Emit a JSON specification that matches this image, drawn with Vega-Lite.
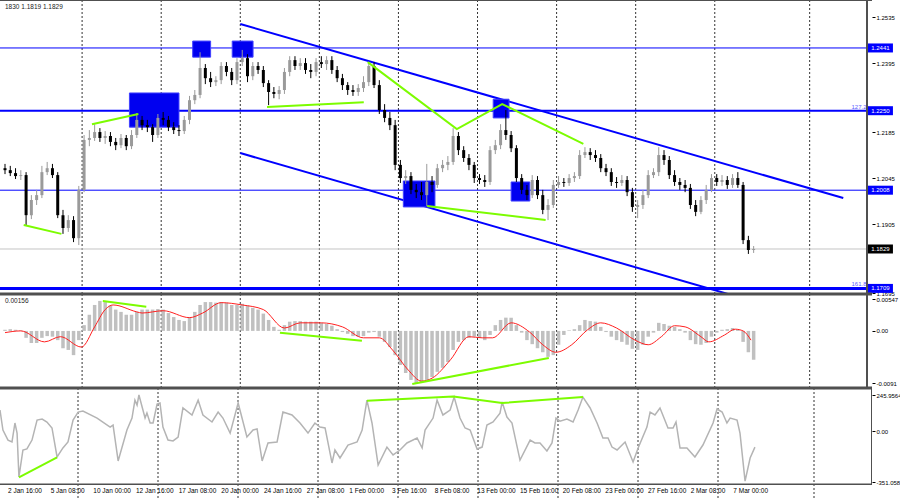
{
"$schema": "https://vega.github.io/schema/vega-lite/v6.json",
"padding": 0,
"spacing": 0,
"bounds": "flush",
"background": "white",
"config": {
 "view": {"stroke": null},
 "axis": {"labelFont": "Liberation Sans", "labelFontSize": 6, "labelColor": "#000000", "tickColor": "#000000", "tickSize": 3, "domain": false, "grid": false, "labelPadding": 1, "labelFlush": false, "labelOverlap": false},
 "text": {"font": "Liberation Sans"}
},
"datasets": {
 "one": [{}],
 "grid": [{"g":29.25},{"g":59.25},{"g":89.25},{"g":119.25},{"g":149.25},{"g":179.25},{"g":209.25},{"g":239.25},{"g":269.25},{"g":305.25}],
 "xlabels": [{"i":3,"t":"2 Jan 16:00"},{"i":19,"t":"5 Jan 08:00"},{"i":35,"t":"10 Jan 00:00"},{"i":51,"t":"12 Jan 16:00"},{"i":67,"t":"17 Jan 08:00"},{"i":83,"t":"20 Jan 00:00"},{"i":99,"t":"24 Jan 16:00"},{"i":115,"t":"27 Jan 08:00"},{"i":131,"t":"1 Feb 00:00"},{"i":147,"t":"3 Feb 16:00"},{"i":163,"t":"8 Feb 08:00"},{"i":179,"t":"13 Feb 00:00"},{"i":195,"t":"15 Feb 16:00"},{"i":211,"t":"20 Feb 08:00"},{"i":227,"t":"23 Feb 00:00"},{"i":243,"t":"27 Feb 16:00"},{"i":259,"t":"2 Mar 08:00"},{"i":275,"t":"7 Mar 00:00"}],
 "candles": [
{"i":0,"o":1.2075,"h":1.2088,"l":1.2057,"c":1.2069,"m":0.0002},
{"i":2,"o":1.2069,"h":1.2082,"l":1.2051,"c":1.2060,"m":0.0003},
{"i":4,"o":1.2060,"h":1.2075,"l":1.2042,"c":1.2051,"m":0.0002},
{"i":6,"o":1.2051,"h":1.2069,"l":1.2039,"c":1.2054,"m":0.0001},
{"i":8,"o":1.2054,"h":1.2063,"l":1.1902,"c":1.1932,"m":-0.0012},
{"i":10,"o":1.1932,"h":1.1993,"l":1.1920,"c":1.1978,"m":-0.0021},
{"i":12,"o":1.1978,"h":1.2009,"l":1.1963,"c":1.1993,"m":-0.0021},
{"i":14,"o":1.1993,"h":1.2082,"l":1.1984,"c":1.2063,"m":-0.0012},
{"i":16,"o":1.2063,"h":1.2094,"l":1.2054,"c":1.2075,"m":-0.0009},
{"i":18,"o":1.2075,"h":1.2088,"l":1.2045,"c":1.2054,"m":-0.0010},
{"i":20,"o":1.2054,"h":1.2063,"l":1.1923,"c":1.1932,"m":-0.0016},
{"i":22,"o":1.1932,"h":1.1948,"l":1.1875,"c":1.1893,"m":-0.0030},
{"i":24,"o":1.1893,"h":1.1932,"l":1.1881,"c":1.1917,"m":-0.0033},
{"i":26,"o":1.1917,"h":1.1929,"l":1.1850,"c":1.1862,"m":-0.0042},
{"i":28,"o":1.1862,"h":1.2021,"l":1.1841,"c":1.2009,"m":-0.0016},
{"i":30,"o":1.2009,"h":1.2176,"l":1.2002,"c":1.2161,"m":0.0010},
{"i":32,"o":1.2161,"h":1.2191,"l":1.2142,"c":1.2167,"m":0.0028},
{"i":34,"o":1.2167,"h":1.2209,"l":1.2158,"c":1.2185,"m":0.0045},
{"i":36,"o":1.2185,"h":1.2197,"l":1.2155,"c":1.2167,"m":0.0052},
{"i":38,"o":1.2167,"h":1.2188,"l":1.2149,"c":1.2173,"m":0.0050},
{"i":40,"o":1.2173,"h":1.2185,"l":1.2142,"c":1.2155,"m":0.0044},
{"i":42,"o":1.2155,"h":1.2167,"l":1.2130,"c":1.2145,"m":0.0037},
{"i":44,"o":1.2145,"h":1.2179,"l":1.2136,"c":1.2167,"m":0.0033},
{"i":46,"o":1.2167,"h":1.2176,"l":1.2130,"c":1.2142,"m":0.0028},
{"i":48,"o":1.2142,"h":1.2191,"l":1.2133,"c":1.2176,"m":0.0028},
{"i":50,"o":1.2176,"h":1.2243,"l":1.2167,"c":1.2222,"m":0.0033},
{"i":52,"o":1.2222,"h":1.2234,"l":1.2191,"c":1.2206,"m":0.0037},
{"i":54,"o":1.2206,"h":1.2222,"l":1.2185,"c":1.2200,"m":0.0037},
{"i":56,"o":1.2200,"h":1.2209,"l":1.2155,"c":1.2176,"m":0.0037},
{"i":58,"o":1.2176,"h":1.2240,"l":1.2167,"c":1.2228,"m":0.0038},
{"i":60,"o":1.2228,"h":1.2246,"l":1.2206,"c":1.2222,"m":0.0037},
{"i":62,"o":1.2222,"h":1.2234,"l":1.2188,"c":1.2200,"m":0.0031},
{"i":64,"o":1.2200,"h":1.2215,"l":1.2179,"c":1.2191,"m":0.0024},
{"i":66,"o":1.2191,"h":1.2206,"l":1.2173,"c":1.2188,"m":0.0019},
{"i":68,"o":1.2188,"h":1.2234,"l":1.2179,"c":1.2222,"m":0.0017},
{"i":70,"o":1.2222,"h":1.2295,"l":1.2209,"c":1.2282,"m":0.0024},
{"i":72,"o":1.2282,"h":1.2313,"l":1.2270,"c":1.2298,"m":0.0033},
{"i":74,"o":1.2298,"h":1.2428,"l":1.2288,"c":1.2380,"m":0.0045},
{"i":76,"o":1.2380,"h":1.2392,"l":1.2331,"c":1.2349,"m":0.0050},
{"i":78,"o":1.2349,"h":1.2368,"l":1.2322,"c":1.2337,"m":0.0050},
{"i":80,"o":1.2337,"h":1.2355,"l":1.2325,"c":1.2343,"m":0.0049},
{"i":82,"o":1.2343,"h":1.2398,"l":1.2331,"c":1.2386,"m":0.0050},
{"i":84,"o":1.2386,"h":1.2398,"l":1.2355,"c":1.2368,"m":0.0049},
{"i":86,"o":1.2368,"h":1.2380,"l":1.2328,"c":1.2343,"m":0.0045},
{"i":88,"o":1.2343,"h":1.2410,"l":1.2331,"c":1.2398,"m":0.0045},
{"i":90,"o":1.2398,"h":1.2435,"l":1.2386,"c":1.2410,"m":0.0047},
{"i":92,"o":1.2410,"h":1.2422,"l":1.2337,"c":1.2355,"m":0.0044},
{"i":94,"o":1.2355,"h":1.2398,"l":1.2343,"c":1.2386,"m":0.0040},
{"i":96,"o":1.2386,"h":1.2398,"l":1.2362,"c":1.2374,"m":0.0037},
{"i":98,"o":1.2374,"h":1.2386,"l":1.2322,"c":1.2334,"m":0.0030},
{"i":100,"o":1.2334,"h":1.2343,"l":1.2267,"c":1.2307,"m":0.0019},
{"i":102,"o":1.2307,"h":1.2322,"l":1.2288,"c":1.2301,"m":0.0007},
{"i":104,"o":1.2301,"h":1.2325,"l":1.2285,"c":1.2313,"m":0.0002},
{"i":106,"o":1.2313,"h":1.2380,"l":1.2301,"c":1.2368,"m":0.0010},
{"i":108,"o":1.2368,"h":1.2416,"l":1.2355,"c":1.2404,"m":0.0016},
{"i":110,"o":1.2404,"h":1.2416,"l":1.2374,"c":1.2386,"m":0.0017},
{"i":112,"o":1.2386,"h":1.2410,"l":1.2374,"c":1.2395,"m":0.0017},
{"i":114,"o":1.2395,"h":1.2410,"l":1.2362,"c":1.2374,"m":0.0016},
{"i":116,"o":1.2374,"h":1.2392,"l":1.2349,"c":1.2368,"m":0.0016},
{"i":118,"o":1.2368,"h":1.2410,"l":1.2355,"c":1.2398,"m":0.0016},
{"i":120,"o":1.2398,"h":1.2416,"l":1.2380,"c":1.2392,"m":0.0014},
{"i":122,"o":1.2392,"h":1.2416,"l":1.2374,"c":1.2404,"m":0.0012},
{"i":124,"o":1.2404,"h":1.2416,"l":1.2362,"c":1.2374,"m":0.0009},
{"i":126,"o":1.2374,"h":1.2386,"l":1.2337,"c":1.2349,"m":0.0003},
{"i":128,"o":1.2349,"h":1.2362,"l":1.2313,"c":1.2328,"m":-0.0002},
{"i":130,"o":1.2328,"h":1.2337,"l":1.2298,"c":1.2313,"m":-0.0005},
{"i":132,"o":1.2313,"h":1.2328,"l":1.2295,"c":1.2307,"m":-0.0009},
{"i":134,"o":1.2307,"h":1.2331,"l":1.2295,"c":1.2319,"m":-0.0010},
{"i":136,"o":1.2319,"h":1.2355,"l":1.2307,"c":1.2337,"m":-0.0009},
{"i":138,"o":1.2337,"h":1.2398,"l":1.2325,"c":1.2386,"m":-0.0003},
{"i":140,"o":1.2386,"h":1.2398,"l":1.2319,"c":1.2328,"m":-0.0002},
{"i":142,"o":1.2328,"h":1.2343,"l":1.2240,"c":1.2252,"m":-0.0010},
{"i":144,"o":1.2252,"h":1.2270,"l":1.2215,"c":1.2228,"m":-0.0019},
{"i":146,"o":1.2228,"h":1.2246,"l":1.2191,"c":1.2206,"m":-0.0028},
{"i":148,"o":1.2206,"h":1.2222,"l":1.2069,"c":1.2085,"m":-0.0042},
{"i":150,"o":1.2085,"h":1.2100,"l":1.2030,"c":1.2045,"m":-0.0059},
{"i":152,"o":1.2045,"h":1.2069,"l":1.2027,"c":1.2051,"m":-0.0073},
{"i":154,"o":1.2051,"h":1.2063,"l":1.1996,"c":1.2009,"m":-0.0085},
{"i":156,"o":1.2009,"h":1.2027,"l":1.1984,"c":1.2002,"m":-0.0092},
{"i":158,"o":1.2002,"h":1.2033,"l":1.1978,"c":1.1993,"m":-0.0090},
{"i":160,"o":1.1993,"h":1.2088,"l":1.1960,"c":1.2033,"m":-0.0085},
{"i":162,"o":1.2033,"h":1.2051,"l":1.2002,"c":1.2024,"m":-0.0080},
{"i":164,"o":1.2024,"h":1.2088,"l":1.2015,"c":1.2075,"m":-0.0071},
{"i":166,"o":1.2075,"h":1.2100,"l":1.2063,"c":1.2085,"m":-0.0064},
{"i":168,"o":1.2085,"h":1.2112,"l":1.2069,"c":1.2094,"m":-0.0054},
{"i":170,"o":1.2094,"h":1.2197,"l":1.2085,"c":1.2173,"m":-0.0033},
{"i":172,"o":1.2173,"h":1.2185,"l":1.2115,"c":1.2130,"m":-0.0019},
{"i":174,"o":1.2130,"h":1.2142,"l":1.2094,"c":1.2106,"m":-0.0016},
{"i":176,"o":1.2106,"h":1.2118,"l":1.2069,"c":1.2085,"m":-0.0012},
{"i":178,"o":1.2085,"h":1.2094,"l":1.2030,"c":1.2045,"m":-0.0010},
{"i":180,"o":1.2045,"h":1.2057,"l":1.2027,"c":1.2039,"m":-0.0012},
{"i":182,"o":1.2039,"h":1.2054,"l":1.2018,"c":1.2033,"m":-0.0016},
{"i":184,"o":1.2033,"h":1.2142,"l":1.2024,"c":1.2130,"m":-0.0007},
{"i":186,"o":1.2130,"h":1.2161,"l":1.2118,"c":1.2145,"m":0.0010},
{"i":188,"o":1.2145,"h":1.2209,"l":1.2133,"c":1.2191,"m":0.0019},
{"i":190,"o":1.2191,"h":1.2252,"l":1.2161,"c":1.2176,"m":0.0023},
{"i":192,"o":1.2176,"h":1.2188,"l":1.2124,"c":1.2136,"m":0.0023},
{"i":194,"o":1.2136,"h":1.2145,"l":1.2033,"c":1.2045,"m":0.0010},
{"i":196,"o":1.2045,"h":1.2057,"l":1.1996,"c":1.2009,"m":-0.0003},
{"i":198,"o":1.2009,"h":1.2024,"l":1.1978,"c":1.1993,"m":-0.0016},
{"i":200,"o":1.1993,"h":1.2054,"l":1.1984,"c":1.2039,"m":-0.0023},
{"i":202,"o":1.2039,"h":1.2051,"l":1.1981,"c":1.1993,"m":-0.0030},
{"i":204,"o":1.1993,"h":1.2009,"l":1.1935,"c":1.1948,"m":-0.0037},
{"i":206,"o":1.1948,"h":1.1981,"l":1.1917,"c":1.1963,"m":-0.0045},
{"i":208,"o":1.1963,"h":1.2039,"l":1.1954,"c":1.2024,"m":-0.0042},
{"i":210,"o":1.2024,"h":1.2051,"l":1.2015,"c":1.2033,"m":-0.0024},
{"i":212,"o":1.2033,"h":1.2045,"l":1.2018,"c":1.2030,"m":-0.0007},
{"i":214,"o":1.2030,"h":1.2057,"l":1.2021,"c":1.2045,"m":0.0001},
{"i":216,"o":1.2045,"h":1.2063,"l":1.2033,"c":1.2051,"m":0.0003},
{"i":218,"o":1.2051,"h":1.2130,"l":1.2042,"c":1.2115,"m":0.0010},
{"i":220,"o":1.2115,"h":1.2139,"l":1.2106,"c":1.2124,"m":0.0019},
{"i":222,"o":1.2124,"h":1.2136,"l":1.2100,"c":1.2115,"m":0.0017},
{"i":224,"o":1.2115,"h":1.2130,"l":1.2094,"c":1.2106,"m":0.0016},
{"i":226,"o":1.2106,"h":1.2118,"l":1.2063,"c":1.2075,"m":0.0007},
{"i":228,"o":1.2075,"h":1.2088,"l":1.2051,"c":1.2063,"m":-0.0002},
{"i":230,"o":1.2063,"h":1.2075,"l":1.2021,"c":1.2033,"m":-0.0010},
{"i":232,"o":1.2033,"h":1.2048,"l":1.2015,"c":1.2030,"m":-0.0016},
{"i":234,"o":1.2030,"h":1.2054,"l":1.2021,"c":1.2039,"m":-0.0019},
{"i":236,"o":1.2039,"h":1.2051,"l":1.1990,"c":1.2002,"m":-0.0024},
{"i":238,"o":1.2002,"h":1.2015,"l":1.1942,"c":1.1957,"m":-0.0031},
{"i":240,"o":1.1957,"h":1.1978,"l":1.1923,"c":1.1963,"m":-0.0033},
{"i":242,"o":1.1963,"h":1.2009,"l":1.1951,"c":1.1993,"m":-0.0024},
{"i":244,"o":1.1993,"h":1.2069,"l":1.1984,"c":1.2054,"m":-0.0010},
{"i":246,"o":1.2054,"h":1.2075,"l":1.2045,"c":1.2063,"m":-0.0003},
{"i":248,"o":1.2063,"h":1.2139,"l":1.2051,"c":1.2115,"m":0.0014},
{"i":250,"o":1.2115,"h":1.2130,"l":1.2085,"c":1.2100,"m":0.0012},
{"i":252,"o":1.2100,"h":1.2112,"l":1.2042,"c":1.2054,"m":0.0009},
{"i":254,"o":1.2054,"h":1.2069,"l":1.2021,"c":1.2033,"m":0.0007},
{"i":256,"o":1.2033,"h":1.2045,"l":1.2009,"c":1.2024,"m":0.0003},
{"i":258,"o":1.2024,"h":1.2039,"l":1.2002,"c":1.2015,"m":-0.0003},
{"i":260,"o":1.2015,"h":1.2027,"l":1.1951,"c":1.1963,"m":-0.0016},
{"i":262,"o":1.1963,"h":1.1978,"l":1.1929,"c":1.1942,"m":-0.0023},
{"i":264,"o":1.1942,"h":1.1990,"l":1.1935,"c":1.1978,"m":-0.0024},
{"i":266,"o":1.1978,"h":1.2024,"l":1.1966,"c":1.2009,"m":-0.0021},
{"i":268,"o":1.2009,"h":1.2057,"l":1.2002,"c":1.2045,"m":-0.0010},
{"i":270,"o":1.2045,"h":1.2057,"l":1.2021,"c":1.2033,"m":-0.0003},
{"i":272,"o":1.2033,"h":1.2054,"l":1.2021,"c":1.2039,"m":0.0002},
{"i":274,"o":1.2039,"h":1.2051,"l":1.2012,"c":1.2024,"m":0.0003},
{"i":276,"o":1.2024,"h":1.2057,"l":1.2015,"c":1.2045,"m":0.0005},
{"i":278,"o":1.2045,"h":1.2063,"l":1.2015,"c":1.2024,"m":0.0002},
{"i":280,"o":1.2024,"h":1.2033,"l":1.1844,"c":1.1856,"m":-0.0019},
{"i":282,"o":1.1856,"h":1.1869,"l":1.1814,"c":1.1826,"m":-0.0037},
{"i":284,"o":1.1826,"h":1.1838,"l":1.1817,"c":1.1829,"m":-0.0050}
 ],
 "sig": [{"i":0,"s":-0.0003},{"i":6,"s":0},{"i":15,"s":-0.0019},{"i":21,"s":-0.001},{"i":29,"s":-0.0028},{"i":34,"s":0.0007},{"i":38,"s":0.0037},{"i":41,"s":0.0045},{"i":50,"s":0.0033},{"i":52,"s":0.0031},{"i":60,"s":0.0035},{"i":70,"s":0.0023},{"i":75,"s":0.0031},{"i":82,"s":0.0049},{"i":90,"s":0.0045},{"i":98,"s":0.0037},{"i":106,"s":0.0005},{"i":112,"s":0.0014},{"i":120,"s":0.0014},{"i":128,"s":0.0007},{"i":136,"s":-0.0012},{"i":142,"s":-0.0012},{"i":147,"s":-0.0033},{"i":153,"s":-0.0068},{"i":158,"s":-0.0087},{"i":162,"s":-0.0082},{"i":169,"s":-0.005},{"i":176,"s":-0.001},{"i":181,"s":-0.0012},{"i":185,"s":-0.0012},{"i":192,"s":0.0014},{"i":199,"s":-0.0002},{"i":204,"s":-0.0024},{"i":209,"s":-0.0037},{"i":215,"s":-0.0024},{"i":221,"s":0.0002},{"i":226,"s":0.0014},{"i":232,"s":0.0005},{"i":239,"s":-0.0016},{"i":244,"s":-0.0024},{"i":249,"s":-0.001},{"i":254,"s":0.0009},{"i":258,"s":0.0007},{"i":264,"s":-0.001},{"i":267,"s":-0.0019},{"i":273,"s":-0.0007},{"i":277,"s":0.0003},{"i":280,"s":0},{"i":283,"s":-0.0016}],
 "cci": [{"i":0,"v":144},{"i":1.1,"v":7},{"i":3,"v":-62},{"i":4.5,"v":-75},{"i":5.6,"v":55},{"i":6.4,"v":-14},{"i":7.1,"v":-315},{"i":8.6,"v":-130},{"i":10.1,"v":-123},{"i":12,"v":-62},{"i":13.9,"v":75},{"i":15.8,"v":82},{"i":17.6,"v":62},{"i":19.5,"v":21},{"i":21.4,"v":-178},{"i":23.6,"v":-116},{"i":25.5,"v":-75},{"i":27.4,"v":75},{"i":29.3,"v":130},{"i":31.1,"v":137},{"i":36.4,"v":89},{"i":41.3,"v":27},{"i":42.4,"v":41},{"i":44.3,"v":-205},{"i":47.6,"v":7},{"i":49.5,"v":89},{"i":50.6,"v":212},{"i":51.4,"v":178},{"i":52.1,"v":247},{"i":54.4,"v":89},{"i":55.1,"v":123},{"i":56.3,"v":55},{"i":57.4,"v":55},{"i":58.9,"v":185},{"i":60,"v":192},{"i":61.1,"v":27},{"i":63,"v":-62},{"i":64.9,"v":-68},{"i":66.8,"v":-41},{"i":68.6,"v":158},{"i":72,"v":110},{"i":74.3,"v":212},{"i":76.1,"v":110},{"i":79.5,"v":62},{"i":81.8,"v":130},{"i":83.6,"v":89},{"i":86.3,"v":-14},{"i":89.3,"v":192},{"i":92.6,"v":-41},{"i":94.9,"v":7},{"i":96.4,"v":14},{"i":98.3,"v":-205},{"i":100.5,"v":-82},{"i":103.9,"v":-75},{"i":106.1,"v":130},{"i":109.5,"v":110},{"i":112.5,"v":55},{"i":115.5,"v":-14},{"i":118.1,"v":55},{"i":120,"v":27},{"i":121.9,"v":21},{"i":124.5,"v":-219},{"i":125.6,"v":-130},{"i":127.5,"v":-185},{"i":130.5,"v":-96},{"i":133.9,"v":-75},{"i":135.8,"v":7},{"i":137.6,"v":212},{"i":139.5,"v":55},{"i":141.8,"v":-233},{"i":145.1,"v":-110},{"i":147.4,"v":-164},{"i":150,"v":-130},{"i":152.6,"v":-82},{"i":156.4,"v":-48},{"i":158.3,"v":-116},{"i":159.4,"v":7},{"i":162.4,"v":89},{"i":163.9,"v":212},{"i":166.1,"v":110},{"i":168.8,"v":144},{"i":170.3,"v":233},{"i":172.5,"v":89},{"i":174.4,"v":21},{"i":176.3,"v":7},{"i":178.9,"v":-123},{"i":180.8,"v":-110},{"i":182.6,"v":41},{"i":184.9,"v":62},{"i":187.5,"v":123},{"i":188.3,"v":199},{"i":190.1,"v":96},{"i":192,"v":55},{"i":195,"v":-199},{"i":198.8,"v":-62},{"i":200.6,"v":-82},{"i":202.5,"v":-82},{"i":205.1,"v":-137},{"i":207,"v":-82},{"i":208.5,"v":89},{"i":210,"v":68},{"i":212.6,"v":82},{"i":214.9,"v":62},{"i":216.8,"v":144},{"i":218.6,"v":233},{"i":221.3,"v":158},{"i":223.9,"v":55},{"i":226.1,"v":-48},{"i":228,"v":-48},{"i":229.5,"v":-110},{"i":231.4,"v":-130},{"i":234.4,"v":-75},{"i":237.4,"v":-212},{"i":239.3,"v":-116},{"i":242.6,"v":27},{"i":243.8,"v":130},{"i":245.6,"v":110},{"i":247.5,"v":158},{"i":250.5,"v":21},{"i":252.4,"v":21},{"i":253.5,"v":62},{"i":255,"v":-116},{"i":257.6,"v":-116},{"i":260.6,"v":-178},{"i":263.6,"v":-96},{"i":267.4,"v":55},{"i":268.9,"v":151},{"i":270.8,"v":130},{"i":272.6,"v":55},{"i":273.8,"v":89},{"i":276.4,"v":75},{"i":277.5,"v":-14},{"i":279.4,"v":-343},{"i":281.3,"v":-185},{"i":283.1,"v":-110}]
},
"vconcat": [
 {
  "width": 872, "height": 294,
  "layer": [
   {"data": {"name": "grid"}, "mark": {"type": "rule", "color": "#333333", "strokeDash": [2, 2], "strokeWidth": 1, "clip": true},
    "encoding": {"x": {"field": "g", "type": "quantitative", "scale": {"domain": [0, 327], "nice": false, "zero": false}, "axis": null}}},
   {"data": {"values": [{"p": 1.2441}, {"p": 1.225}, {"p": 1.2008}, {"p": 1.1709}]},
    "mark": {"type": "rule", "color": "#0000ff", "clip": true},
    "encoding": {"y": {"field": "p", "type": "quantitative", "scale": {"domain": [1.1692, 1.2587], "nice": false, "zero": false}, "title": null},
     "strokeWidth": {"condition": [{"test": "datum.p == 1.1709", "value": 3}, {"test": "datum.p == 1.225", "value": 2}], "value": 1}}},
   {"data": {"values": [{"p": 1.1829}]}, "mark": {"type": "rule", "color": "#c4c4c4", "strokeWidth": 1, "clip": true},
    "encoding": {"y": {"field": "p", "type": "quantitative", "scale": {"domain": [1.1692, 1.2587], "nice": false, "zero": false}, "title": null}}},
   {"data": {"values": [{"ch": "u", "i": 89.25, "p": 1.2514}, {"ch": "u", "i": 318, "p": 1.1984}, {"ch": "l", "i": 89.25, "p": 1.2121}, {"ch": "l", "i": 276, "p": 1.1688}]},
    "mark": {"type": "line", "color": "#0000ff", "strokeWidth": 2, "clip": true},
    "encoding": {"x": {"field": "i", "type": "quantitative", "scale": {"domain": [0, 327], "nice": false, "zero": false}, "axis": null},
     "y": {"field": "p", "type": "quantitative", "scale": {"domain": [1.1692, 1.2587], "nice": false, "zero": false}, "title": null},
     "detail": {"field": "ch"}}},
   {"data": {"values": [{"i1": 47.2, "i2": 66, "p1": 1.2304, "p2": 1.22}, {"i1": 71.2, "i2": 78, "p1": 1.2462, "p2": 1.2413}, {"i1": 86.2, "i2": 94.1, "p1": 1.2462, "p2": 1.2413}, {"i1": 151.1, "i2": 163.1, "p1": 1.2036, "p2": 1.1957}, {"i1": 185.2, "i2": 191.2, "p1": 1.2285, "p2": 1.2228}, {"i1": 192, "i2": 199.1, "p1": 1.2033, "p2": 1.1975}]},
    "mark": {"type": "rect", "fill": "#0000f0", "stroke": "#4040ff", "strokeWidth": 1, "opacity": 1},
    "encoding": {"x": {"field": "i1", "type": "quantitative", "scale": {"domain": [0, 327], "nice": false, "zero": false}, "axis": null}, "x2": {"field": "i2"},
     "y": {"field": "p1", "type": "quantitative", "scale": {"domain": [1.1692, 1.2587], "nice": false, "zero": false}, "title": null}, "y2": {"field": "p2"}}},
   {"data": {"name": "candles"}, "mark": {"type": "rule", "strokeWidth": 1, "clip": true},
    "encoding": {"x": {"field": "i", "type": "quantitative", "scale": {"domain": [0, 327], "nice": false, "zero": false}, "axis": null},
     "y": {"field": "l", "type": "quantitative", "scale": {"domain": [1.1692, 1.2587], "nice": false, "zero": false}, "title": null}, "y2": {"field": "h"},
     "color": {"condition": {"test": "datum.c < datum.o", "value": "#000000"}, "value": "#9a9a9a"}}},
   {"data": {"name": "candles"}, "mark": {"type": "bar", "width": 3, "clip": true},
    "encoding": {"x": {"field": "i", "type": "quantitative", "scale": {"domain": [0, 327], "nice": false, "zero": false}, "axis": null},
     "y": {"field": "o", "type": "quantitative", "scale": {"domain": [1.1692, 1.2587], "nice": false, "zero": false}, "title": null,
      "axis": {"orient": "right", "values": [1.2535, 1.2465, 1.2395, 1.2325, 1.2185, 1.2115, 1.2045, 1.1975, 1.1905, 1.1765, 1.1695], "format": ".4f"}},
     "y2": {"field": "c"},
     "color": {"condition": {"test": "datum.c < datum.o", "value": "#000000"}, "value": "#9a9a9a"}}},
   {"data": {"values": [{"g": "a", "n": 1, "i": 7.1, "p": 1.1902}, {"g": "a", "n": 2, "i": 21.4, "p": 1.1875}, {"g": "b", "n": 1, "i": 33, "p": 1.2209}, {"g": "b", "n": 2, "i": 50.6, "p": 1.224}, {"g": "c", "n": 1, "i": 99.4, "p": 1.2261}, {"g": "c", "n": 2, "i": 136.1, "p": 1.2276}, {"g": "d", "n": 1, "i": 137.6, "p": 1.2398}, {"g": "d", "n": 2, "i": 171.4, "p": 1.2194}, {"g": "d", "n": 3, "i": 188.6, "p": 1.227}, {"g": "d", "n": 4, "i": 219.4, "p": 1.2149}, {"g": "e", "n": 1, "i": 160.1, "p": 1.196}, {"g": "e", "n": 2, "i": 205.1, "p": 1.1917}]},
    "mark": {"type": "line", "color": "#7cfc00", "strokeWidth": 2},
    "encoding": {"x": {"field": "i", "type": "quantitative", "scale": {"domain": [0, 327], "nice": false, "zero": false}, "axis": null},
     "y": {"field": "p", "type": "quantitative", "scale": {"domain": [1.1692, 1.2587], "nice": false, "zero": false}, "title": null},
     "detail": {"field": "g"}, "order": {"field": "n", "type": "quantitative"}}},
   {"data": {"values": [{"p": 1.225, "t": "127.2"}, {"p": 1.1709, "t": "161.8"}]},
    "mark": {"type": "text", "align": "right", "baseline": "bottom", "dy": -1, "fontSize": 6, "color": "#6060ff"},
    "encoding": {"x": {"datum": 326.8, "type": "quantitative", "scale": {"domain": [0, 327], "nice": false, "zero": false}, "axis": null},
     "y": {"field": "p", "type": "quantitative", "scale": {"domain": [1.1692, 1.2587], "nice": false, "zero": false}, "title": null},
     "text": {"field": "t"}}},
   {"data": {"values": [{"p": 1.2441}, {"p": 1.225}, {"p": 1.2008}, {"p": 1.1829}, {"p": 1.1709}]},
    "mark": {"type": "tick", "orient": "horizontal", "size": 25, "thickness": 9, "opacity": 1},
    "encoding": {"x": {"datum": 332.1, "type": "quantitative", "scale": {"domain": [0, 327], "nice": false, "zero": false}, "axis": null},
     "y": {"field": "p", "type": "quantitative", "scale": {"domain": [1.1692, 1.2587], "nice": false, "zero": false}, "title": null},
     "color": {"condition": {"test": "datum.p == 1.1829", "value": "#000000"}, "value": "#0000ff"}}},
   {"data": {"values": [{"p": 1.2441}, {"p": 1.225}, {"p": 1.2008}, {"p": 1.1829}, {"p": 1.1709}]},
    "mark": {"type": "text", "align": "left", "baseline": "middle", "fontSize": 6, "color": "#ffffff"},
    "encoding": {"x": {"datum": 328.6, "type": "quantitative", "scale": {"domain": [0, 327], "nice": false, "zero": false}, "axis": null},
     "y": {"field": "p", "type": "quantitative", "scale": {"domain": [1.1692, 1.2587], "nice": false, "zero": false}, "title": null},
     "text": {"field": "p", "format": ".4f"}}},
   {"data": {"values": [{"t": "1830 1.1819 1.1829"}]},
    "mark": {"type": "text", "align": "left", "baseline": "middle", "fontSize": 6.5, "color": "#222222"},
    "encoding": {"x": {"datum": 0, "type": "quantitative", "scale": {"domain": [0, 327], "nice": false, "zero": false}, "axis": null},
     "y": {"datum": 1.2566, "type": "quantitative", "scale": {"domain": [1.1692, 1.2587], "nice": false, "zero": false}, "title": null},
     "text": {"field": "t"}}},
   {"data": {"name": "one"}, "mark": {"type": "rule", "color": "#505050", "strokeWidth": 2, "clip": true},
    "encoding": {"y": {"datum": 1.2587, "type": "quantitative", "scale": {"domain": [1.1692, 1.2587], "nice": false, "zero": false}, "title": null}}},
   {"data": {"name": "one"}, "mark": {"type": "rule", "color": "#505050", "strokeWidth": 3, "clip": true},
    "encoding": {"y": {"datum": 1.1692, "type": "quantitative", "scale": {"domain": [1.1692, 1.2587], "nice": false, "zero": false}, "title": null}}},
   {"data": {"name": "one"}, "mark": {"type": "rule", "color": "#505050", "strokeWidth": 2, "clip": true},
    "encoding": {"x": {"datum": 327, "type": "quantitative", "scale": {"domain": [0, 327], "nice": false, "zero": false}, "axis": null}}}
  ]
 },
 {
  "width": 872, "height": 94,
  "layer": [
   {"data": {"name": "grid"}, "mark": {"type": "rule", "color": "#333333", "strokeDash": [2, 2], "strokeWidth": 1, "clip": true},
    "encoding": {"x": {"field": "g", "type": "quantitative", "scale": {"domain": [0, 327], "nice": false, "zero": false}, "axis": null}}},
   {"data": {"name": "candles"}, "mark": {"type": "bar", "width": 3.5, "color": "#c0c0c0", "clip": true},
    "encoding": {"x": {"field": "i", "type": "quantitative", "scale": {"domain": [0, 327], "nice": false, "zero": false}, "axis": null},
     "y": {"field": "m", "type": "quantitative", "scale": {"domain": [-0.0099, 0.0064], "nice": false, "zero": false}, "title": null,
      "axis": {"orient": "right", "values": [0.00547, 0, -0.0091], "labelExpr": "datum.value == 0 ? '0.00' : (datum.value > 0 ? '0.00547' : '-0.0091')"}},
     "y2": {"datum": 0}}},
   {"data": {"name": "sig"}, "mark": {"type": "line", "color": "#ff2020", "strokeWidth": 1, "interpolate": "monotone", "clip": true},
    "encoding": {"x": {"field": "i", "type": "quantitative", "scale": {"domain": [0, 327], "nice": false, "zero": false}, "axis": null},
     "y": {"field": "s", "type": "quantitative", "scale": {"domain": [-0.0099, 0.0064], "nice": false, "zero": false}, "title": null}}},
   {"data": {"values": [{"g": "a", "n": 1, "i": 37.1, "v": 0.0052}, {"g": "a", "n": 2, "i": 53.6, "v": 0.0042}, {"g": "b", "n": 1, "i": 104.3, "v": -0.0003}, {"g": "b", "n": 2, "i": 135.4, "v": -0.0017}, {"g": "c", "n": 1, "i": 154.5, "v": -0.0092}, {"g": "c", "n": 2, "i": 206.3, "v": -0.0047}]},
    "mark": {"type": "line", "color": "#7cfc00", "strokeWidth": 2},
    "encoding": {"x": {"field": "i", "type": "quantitative", "scale": {"domain": [0, 327], "nice": false, "zero": false}, "axis": null},
     "y": {"field": "v", "type": "quantitative", "scale": {"domain": [-0.0099, 0.0064], "nice": false, "zero": false}, "title": null},
     "detail": {"field": "g"}, "order": {"field": "n", "type": "quantitative"}}},
   {"data": {"values": [{"t": "0.00156"}]},
    "mark": {"type": "text", "align": "left", "baseline": "middle", "fontSize": 6.5, "color": "#222222"},
    "encoding": {"x": {"datum": 0, "type": "quantitative", "scale": {"domain": [0, 327], "nice": false, "zero": false}, "axis": null},
     "y": {"datum": 0.0051, "type": "quantitative", "scale": {"domain": [-0.0099, 0.0064], "nice": false, "zero": false}, "title": null},
     "text": {"field": "t"}}},
   {"data": {"name": "one"}, "mark": {"type": "rule", "color": "#505050", "strokeWidth": 3, "clip": true},
    "encoding": {"y": {"datum": 0.0064, "type": "quantitative", "scale": {"domain": [-0.0099, 0.0064], "nice": false, "zero": false}, "title": null}}},
   {"data": {"name": "one"}, "mark": {"type": "rule", "color": "#505050", "strokeWidth": 3, "clip": true},
    "encoding": {"y": {"datum": -0.0099, "type": "quantitative", "scale": {"domain": [-0.0099, 0.0064], "nice": false, "zero": false}, "title": null}}},
   {"data": {"name": "one"}, "mark": {"type": "rule", "color": "#505050", "strokeWidth": 2, "clip": true},
    "encoding": {"x": {"datum": 327, "type": "quantitative", "scale": {"domain": [0, 327], "nice": false, "zero": false}, "axis": null}}}
  ]
 },
 {
  "width": 872, "height": 97,
  "layer": [
   {"data": {"name": "grid"}, "mark": {"type": "rule", "color": "#333333", "strokeDash": [2, 2], "strokeWidth": 1},
    "encoding": {"x": {"field": "g", "type": "quantitative", "scale": {"domain": [0, 327], "nice": false, "zero": false}, "axis": null},
     "y": {"datum": 295, "type": "quantitative", "scale": {"domain": [-370, 295], "nice": false, "zero": false}, "title": null},
     "y2": {"datum": -475}}},
   {"data": {"name": "cci"}, "mark": {"type": "line", "color": "#b4b4b4", "strokeWidth": 1.5, "clip": true},
    "encoding": {"x": {"field": "i", "type": "quantitative", "scale": {"domain": [0, 327], "nice": false, "zero": false}, "axis": null},
     "y": {"field": "v", "type": "quantitative", "scale": {"domain": [-370, 295], "nice": false, "zero": false}, "title": null,
      "axis": {"orient": "right", "values": [245.9564, 0, -351.058], "labelExpr": "datum.value == 0 ? '0.00' : (datum.value > 0 ? '245.9564' : '-351.058')"}}}},
   {"data": {"values": [{"g": "a", "n": 1, "i": 7.1, "v": -318}, {"g": "a", "n": 2, "i": 21.4, "v": -180}, {"g": "b", "n": 1, "i": 137.6, "v": 207}, {"g": "b", "n": 2, "i": 170, "v": 237}, {"g": "b", "n": 3, "i": 188.3, "v": 192}, {"g": "b", "n": 4, "i": 218.6, "v": 233}]},
    "mark": {"type": "line", "color": "#7cfc00", "strokeWidth": 2},
    "encoding": {"x": {"field": "i", "type": "quantitative", "scale": {"domain": [0, 327], "nice": false, "zero": false}, "axis": null},
     "y": {"field": "v", "type": "quantitative", "scale": {"domain": [-370, 295], "nice": false, "zero": false}, "title": null},
     "detail": {"field": "g"}, "order": {"field": "n", "type": "quantitative"}}},
   {"data": {"name": "xlabels"},
    "mark": {"type": "text", "align": "left", "baseline": "top", "dy": 3, "fontSize": 6.5, "color": "#000000"},
    "encoding": {"x": {"field": "i", "type": "quantitative", "scale": {"domain": [0, 327], "nice": false, "zero": false}, "axis": null},
     "y": {"datum": -370, "type": "quantitative", "scale": {"domain": [-370, 295], "nice": false, "zero": false}, "title": null},
     "text": {"field": "t"}}},
   {"data": {"name": "one"}, "mark": {"type": "rule", "color": "#505050", "strokeWidth": 3, "clip": true},
    "encoding": {"y": {"datum": 295, "type": "quantitative", "scale": {"domain": [-370, 295], "nice": false, "zero": false}, "title": null}}},
   {"data": {"name": "one"}, "mark": {"type": "rule", "color": "#505050", "strokeWidth": 3, "clip": true},
    "encoding": {"y": {"datum": -370, "type": "quantitative", "scale": {"domain": [-370, 295], "nice": false, "zero": false}, "title": null}}},
   {"data": {"name": "one"}, "mark": {"type": "rule", "color": "#505050", "strokeWidth": 2, "clip": true},
    "encoding": {"x": {"datum": 327, "type": "quantitative", "scale": {"domain": [0, 327], "nice": false, "zero": false}, "axis": null}}}
  ]
 }
]
}
